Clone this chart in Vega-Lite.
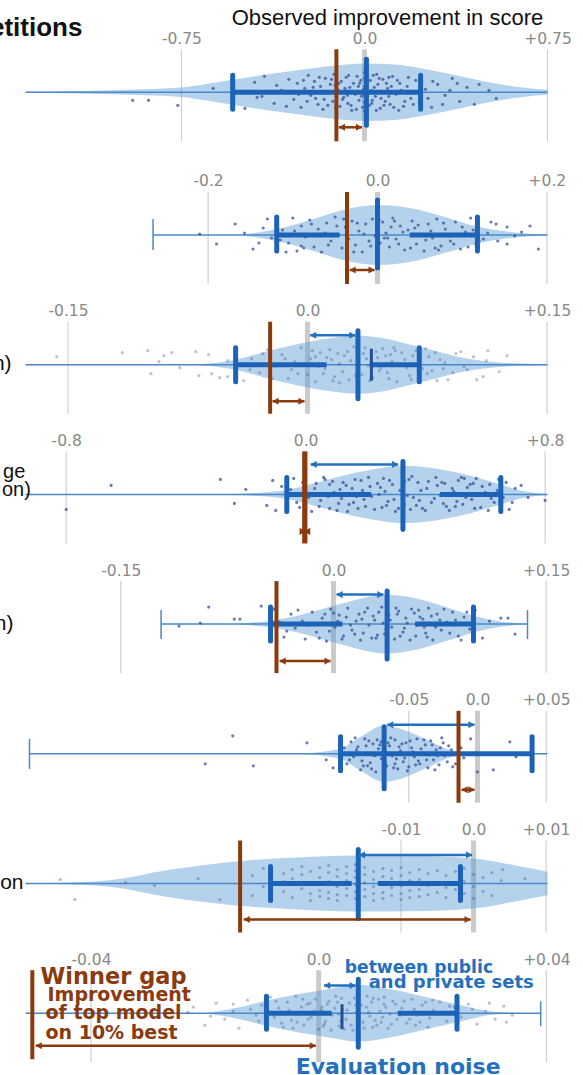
{
"$schema": "https://vega.github.io/schema/vega-lite/v6.json",
"background": "white",
"padding": {"left": -10.5, "top": 6.3, "right": 0, "bottom": -4},
"spacing": 16.7,
"resolve": {"scale": {"x": "independent", "y": "independent"}},
"config": {
  "view": {"stroke": null},
  "axis": {"domain": false, "ticks": false, "tickSize": 0, "grid": false, "labelFont": "DejaVu Sans", "labelFontSize": 15.5, "labelColor": "#888888", "labelPadding": 11, "labelBaseline": "middle", "labelFlush": false, "labelOverlap": false, "minExtent": 0}
},
"datasets": {
  "s1": [{"k":"grid","x":-0.75},{"k":"grid","x":0.75},{"k":"zero","x":0},{"k":"wh","x":-1.389,"x2":0.75},{"k":"thick","x":-0.54,"x2":0.23},{"k":"bar","x":-0.54},{"k":"bar","x":0.23},{"k":"med","x":0.008},{"k":"win","x":-0.115},{"k":"br","x":-0.105,"x2":-0.01},
    {"k":"v","x":-1.389,"hi":0.5,"lo":-0.5},{"k":"v","x":-1.04,"hi":2,"lo":-2},{"k":"v","x":-0.75,"hi":4.7,"lo":-4.7},{"k":"v","x":-0.655,"hi":8,"lo":-8},{"k":"v","x":-0.54,"hi":12.5,"lo":-12.5},{"k":"v","x":-0.426,"hi":17,"lo":-17},{"k":"v","x":-0.275,"hi":22,"lo":-22},{"k":"v","x":-0.119,"hi":26.7,"lo":-26.7},{"k":"v","x":0,"hi":28.7,"lo":-28.7},{"k":"v","x":0.123,"hi":27.7,"lo":-27.7},{"k":"v","x":0.23,"hi":24,"lo":-24},{"k":"v","x":0.336,"hi":19,"lo":-19},{"k":"v","x":0.488,"hi":11,"lo":-11},{"k":"v","x":0.639,"hi":5,"lo":-5},{"k":"v","x":0.75,"hi":2.5,"lo":-2.5}],
  "s2": [{"k":"grid","x":-0.2},{"k":"grid","x":0.2},{"k":"zero","x":0},{"k":"wh","x":-0.265,"x2":0.2007},{"k":"cap","x":-0.265},{"k":"thick","x":-0.119,"x2":-0.045},{"k":"thick","x":0.038,"x2":0.118},{"k":"bar","x":-0.119},{"k":"bar","x":0.118},{"k":"med","x":0},{"k":"win","x":-0.036},{"k":"br","x":-0.0329,"x2":-0.0035},
    {"k":"v","x":-0.159,"hi":0.5,"lo":-0.5},{"k":"v","x":-0.119,"hi":6,"lo":-6},{"k":"v","x":-0.072,"hi":17,"lo":-17},{"k":"v","x":-0.041,"hi":25,"lo":-25},{"k":"v","x":0,"hi":30,"lo":-30},{"k":"v","x":0.038,"hi":27,"lo":-27},{"k":"v","x":0.081,"hi":17.6,"lo":-17.6},{"k":"v","x":0.118,"hi":8.4,"lo":-8.4},{"k":"v","x":0.16,"hi":2.7,"lo":-2.7},{"k":"v","x":0.2007,"hi":0.5,"lo":-0.5}],
  "s3": [{"k":"grid","x":-0.15},{"k":"grid","x":0.15},{"k":"zero","x":0},{"k":"wh","x":-0.1766,"x2":0.1503},{"k":"thick","x":-0.045,"x2":0.012},{"k":"thick","x":0.039,"x2":0.07},{"k":"bar","x":-0.045},{"k":"bar","x":0.07},{"k":"tk","x":0.04},{"k":"med","x":0.0316},{"k":"win","x":-0.0234},{"k":"br","x":-0.0219,"x2":-0.0019},{"k":"bw","x":0.0017,"x2":0.03},
    {"k":"v","x":-0.067,"hi":0.5,"lo":-0.5},{"k":"v","x":-0.045,"hi":5,"lo":-5},{"k":"v","x":-0.024,"hi":14,"lo":-14},{"k":"v","x":0.001,"hi":23,"lo":-23},{"k":"v","x":0.032,"hi":29,"lo":-29},{"k":"v","x":0.041,"hi":28,"lo":-28},{"k":"v","x":0.071,"hi":17.5,"lo":-17.5},{"k":"v","x":0.099,"hi":6.5,"lo":-6.5},{"k":"v","x":0.122,"hi":2,"lo":-2},{"k":"v","x":0.1503,"hi":0.5,"lo":-0.5}],
  "s4": [{"k":"grid","x":-0.8},{"k":"grid","x":0.8},{"k":"zero","x":0},{"k":"wh","x":-0.936,"x2":0.808},{"k":"thick","x":-0.063,"x2":0.219},{"k":"thick","x":0.449,"x2":0.652},{"k":"bar","x":-0.063},{"k":"bar","x":0.652},{"k":"med","x":0.325},{"k":"win","x":-0.0033},{"k":"br","x":-0.005,"x2":0.0},{"k":"bw","x":0.0167,"x2":0.309},
    {"k":"v","x":-0.237,"hi":0.5,"lo":-0.5},{"k":"v","x":-0.087,"hi":3.4,"lo":-3.4},{"k":"v","x":0.013,"hi":10,"lo":-10},{"k":"v","x":0.1,"hi":17,"lo":-17},{"k":"v","x":0.223,"hi":25,"lo":-25},{"k":"v","x":0.325,"hi":28.7,"lo":-28.7},{"k":"v","x":0.408,"hi":27,"lo":-27},{"k":"v","x":0.533,"hi":20,"lo":-20},{"k":"v","x":0.652,"hi":10,"lo":-10},{"k":"v","x":0.717,"hi":4,"lo":-4},{"k":"v","x":0.808,"hi":0.5,"lo":-0.5}],
  "s5": [{"k":"grid","x":-0.15},{"k":"grid","x":0.15},{"k":"zero","x":0},{"k":"wh","x":-0.1216,"x2":0.1368},{"k":"cap","x":-0.1216},{"k":"cap","x":0.1368},{"k":"thick","x":-0.0444,"x2":0.0063},{"k":"thick","x":0.0575,"x2":0.0987},{"k":"bar","x":-0.0444},{"k":"bar","x":0.0987},{"k":"med","x":0.0378},{"k":"win","x":-0.0402},{"k":"br","x":-0.038,"x2":-0.0021},{"k":"bw","x":0.0021,"x2":0.0352},
    {"k":"v","x":-0.067,"hi":0.5,"lo":-0.5},{"k":"v","x":-0.0444,"hi":3.4,"lo":-3.4},{"k":"v","x":-0.0253,"hi":8.4,"lo":-8.4},{"k":"v","x":0.001,"hi":18.6,"lo":-18.6},{"k":"v","x":0.0378,"hi":29.4,"lo":-29.4},{"k":"v","x":0.0535,"hi":27,"lo":-27},{"k":"v","x":0.0796,"hi":16.9,"lo":-16.9},{"k":"v","x":0.0987,"hi":8.4,"lo":-8.4},{"k":"v","x":0.119,"hi":2.4,"lo":-2.4},{"k":"v","x":0.1368,"hi":0.5,"lo":-0.5}],
  "s6": [{"k":"grid","x":-0.05},{"k":"grid","x":0.05},{"k":"zero","x":0},{"k":"wh","x":-0.3258,"x2":0.0509},{"k":"cap","x":-0.3258},{"k":"thick","x":-0.0996,"x2":0.0397},{"k":"bar","x":-0.0996},{"k":"bar","x":0.0397},{"k":"med","x":-0.0679},{"k":"win","x":-0.0138},{"k":"br","x":-0.0116,"x2":-0.0022},{"k":"bw","x":-0.0657,"x2":-0.0022},
    {"k":"v","x":-0.125,"hi":0.5,"lo":-0.5},{"k":"v","x":-0.0996,"hi":5,"lo":-5},{"k":"v","x":-0.0873,"hi":15,"lo":-15},{"k":"v","x":-0.0679,"hi":28,"lo":-28},{"k":"v","x":-0.0549,"hi":24.6,"lo":-24.6},{"k":"v","x":-0.036,"hi":13.5,"lo":-13.5},{"k":"v","x":-0.0225,"hi":5,"lo":-5},{"k":"v","x":-0.0116,"hi":1,"lo":-1}],
  "s7": [{"k":"grid","x":-0.01},{"k":"grid","x":0.01},{"k":"zero","x":0},{"k":"wh","x":-0.0618,"x2":0.0102},{"k":"thick","x":-0.028,"x2":-0.0168},{"k":"thick","x":-0.0132,"x2":-0.0018},{"k":"bar","x":-0.028},{"k":"bar","x":-0.0018},{"k":"med","x":-0.0159},{"k":"win","x":-0.0322},{"k":"br","x":-0.0317,"x2":-0.0004},{"k":"bw","x":-0.0158,"x2":-0.0002},
    {"k":"v","x":-0.0575,"hi":0.5,"lo":-0.5},{"k":"v","x":-0.0499,"hi":3.4,"lo":-3.4},{"k":"v","x":-0.0422,"hi":13.5,"lo":-13.5},{"k":"v","x":-0.0371,"hi":18.6,"lo":-18.6},{"k":"v","x":-0.0319,"hi":22.6,"lo":-22.6},{"k":"v","x":-0.0243,"hi":26,"lo":-26},{"k":"v","x":-0.0165,"hi":28,"lo":-28},{"k":"v","x":-0.0088,"hi":27.7,"lo":-27.7},{"k":"v","x":0,"hi":25,"lo":-25},{"k":"v","x":0.0065,"hi":16.9,"lo":-16.9},{"k":"v","x":0.0102,"hi":11.8,"lo":-11.8}],
  "s8": [{"k":"grid","x":-0.04},{"k":"grid","x":0.04},{"k":"zero","x":0},{"k":"wh","x":-0.0515,"x2":0.039},{"k":"cap","x":0.039},{"k":"thick","x":-0.00917,"x2":0.00229},{"k":"thick","x":0.0139,"x2":0.0243},{"k":"bar","x":-0.00917},{"k":"bar","x":0.0243},{"k":"tk","x":0.0041},{"k":"med","x":0.00696},{"k":"win","x":-0.0503},{"k":"br","x":-0.0497,"x2":-0.0005},{"k":"bw","x":0.00095,"x2":0.0065},
    {"k":"v","x":-0.0193,"hi":0.5,"lo":-0.5},{"k":"v","x":-0.0141,"hi":5.7,"lo":-5.7},{"k":"v","x":-0.0092,"hi":12.5,"lo":-12.5},{"k":"v","x":-0.0037,"hi":19,"lo":-19},{"k":"v","x":0.0016,"hi":24,"lo":-24},{"k":"v","x":0.007,"hi":28.4,"lo":-28.4},{"k":"v","x":0.0127,"hi":24,"lo":-24},{"k":"v","x":0.0193,"hi":15.5,"lo":-15.5},{"k":"v","x":0.0243,"hi":9,"lo":-9},{"k":"v","x":0.0309,"hi":1.4,"lo":-1.4},{"k":"v","x":0.0355,"hi":0.3,"lo":-0.3}],
  "q1": [{"x":-0.95,"j":-8},{"x":-0.885,"j":-8},{"x":-0.765,"j":-13},{"x":-0.62,"j":4},{"x":-0.49,"j":-16},{"x":-0.45,"j":10},{"x":-0.44,"j":-5},{"x":-0.41,"j":16},{"x":-0.37,"j":-11},{"x":-0.34,"j":2},{"x":-0.31,"j":13},{"x":-0.29,"j":-7},{"x":-0.275,"j":9},{"x":-0.26,"j":-15},{"x":-0.245,"j":4},{"x":-0.23,"j":17},{"x":-0.22,"j":-3},{"x":-0.205,"j":11},{"x":-0.19,"j":-12},{"x":-0.18,"j":6},{"x":-0.17,"j":-17},{"x":-0.16,"j":14},{"x":-0.152,"j":-1},{"x":-0.14,"j":8},{"x":-0.13,"j":-9},{"x":-0.125,"j":18},{"x":-0.11,"j":3},{"x":-0.1,"j":-14},{"x":-0.095,"j":11},{"x":-0.085,"j":-5},{"x":-0.075,"j":15},{"x":-0.068,"j":-11},{"x":-0.06,"j":5},{"x":-0.052,"j":-18},{"x":-0.045,"j":9},{"x":-0.038,"j":-2},{"x":-0.03,"j":16},{"x":-0.022,"j":-8},{"x":-0.015,"j":12},{"x":-0.008,"j":-15},{"x":-0.004,"j":3},{"x":0,"j":-19},{"x":0,"j":-10},{"x":0,"j":-3},{"x":0,"j":6},{"x":0,"j":14},{"x":0,"j":20},{"x":0.006,"j":-7},{"x":0.012,"j":10},{"x":0.02,"j":-13},{"x":0.028,"j":2},{"x":0.036,"j":17},{"x":0.045,"j":-4},{"x":0.055,"j":8},{"x":0.065,"j":-16},{"x":0.075,"j":13},{"x":0.085,"j":-9},{"x":0.095,"j":4},{"x":0.105,"j":-12},{"x":0.115,"j":16},{"x":0.13,"j":-2},{"x":0.145,"j":9},{"x":0.16,"j":-14},{"x":0.175,"j":6},{"x":0.19,"j":-6},{"x":0.21,"j":12},{"x":0.225,"j":-10},{"x":0.25,"j":3},{"x":0.275,"j":-15},{"x":0.3,"j":8},{"x":0.33,"j":-3},{"x":0.36,"j":14},{"x":0.39,"j":-9},{"x":0.42,"j":5},{"x":0.45,"j":-12},{"x":0.47,"j":8},{"x":0.51,"j":2},{"x":0.54,"j":-6},{"x":-0.2,"j":-6},{"x":-0.12,"j":7},{"x":-0.07,"j":-3},{"x":-0.02,"j":9},{"x":0.03,"j":-11},{"x":0.07,"j":1},{"x":0.1,"j":15},{"x":0.14,"j":-18},{"x":0.2,"j":0},{"x":-0.25,"j":12},{"x":-0.15,"j":-13},{"x":0.05,"j":18},
    {"x":-0.27,"j":-2},{"x":-0.235,"j":-9},{"x":-0.21,"j":5},{"x":-0.185,"j":15},{"x":-0.165,"j":-7},{"x":-0.145,"j":1},{"x":-0.135,"j":13},{"x":-0.118,"j":-16},{"x":-0.105,"j":9},{"x":-0.09,"j":-7},{"x":-0.08,"j":4},{"x":-0.065,"j":17},{"x":-0.055,"j":-13},{"x":-0.04,"j":0},{"x":-0.033,"j":-17},{"x":-0.025,"j":6},{"x":-0.012,"j":-4},{"x":0.003,"j":-14},{"x":0.01,"j":17},{"x":0.016,"j":-1},{"x":0.024,"j":12},{"x":0.032,"j":-8},{"x":0.04,"j":5},{"x":0.048,"j":-18},{"x":0.06,"j":14},{"x":0.068,"j":-6},{"x":0.08,"j":-13},{"x":0.09,"j":9},{"x":0.1,"j":-4},{"x":0.11,"j":6},{"x":0.12,"j":-15},{"x":0.135,"j":12},{"x":0.15,"j":2},{"x":0.165,"j":-9},{"x":0.18,"j":15},{"x":0.2,"j":-12},{"x":0.23,"j":6},{"x":0.26,"j":-6},{"x":0.28,"j":11},{"x":0.32,"j":-12},{"x":0.35,"j":2},{"x":0.38,"j":9},{"x":-0.32,"j":-14},{"x":-0.36,"j":7},{"x":-0.42,"j":-4}],
  "q2": [{"x":-0.21,"j":1},{"x":-0.19,"j":-9},{"x":-0.168,"j":11},{"x":-0.157,"j":2},{"x":-0.147,"j":-14},{"x":-0.13,"j":16},{"x":-0.125,"j":-3},{"x":-0.118,"j":13},{"x":-0.118,"j":-15},{"x":-0.112,"j":5},{"x":-0.105,"j":-8},{"x":-0.1,"j":17},{"x":-0.095,"j":-16},{"x":-0.09,"j":9},{"x":-0.085,"j":-2},{"x":-0.08,"j":15},{"x":-0.075,"j":-12},{"x":-0.07,"j":6},{"x":-0.066,"j":-17},{"x":-0.06,"j":12},{"x":-0.055,"j":-6},{"x":-0.05,"j":18},{"x":-0.046,"j":0},{"x":-0.042,"j":-13},{"x":-0.038,"j":8},{"x":-0.034,"j":-4},{"x":-0.03,"j":14},{"x":-0.026,"j":-10},{"x":-0.022,"j":4},{"x":-0.018,"j":-17},{"x":-0.014,"j":11},{"x":-0.01,"j":-6},{"x":-0.006,"j":16},{"x":-0.003,"j":-1},{"x":0,"j":-14},{"x":0,"j":7},{"x":0.003,"j":-8},{"x":0.006,"j":13},{"x":0.01,"j":2},{"x":0.014,"j":-12},{"x":0.018,"j":17},{"x":0.022,"j":-4},{"x":0.027,"j":9},{"x":0.032,"j":-15},{"x":0.036,"j":5},{"x":0.041,"j":14},{"x":0.046,"j":-9},{"x":0.05,"j":1},{"x":0.055,"j":-16},{"x":0.06,"j":11},{"x":0.065,"j":-3},{"x":0.07,"j":16},{"x":0.075,"j":-11},{"x":0.08,"j":6},{"x":0.086,"j":-6},{"x":0.092,"j":13},{"x":0.098,"j":-14},{"x":0.104,"j":3},{"x":0.11,"j":17},{"x":0.116,"j":-9},{"x":0.118,"j":10},{"x":0.125,"j":-4},{"x":0.134,"j":13},{"x":0.142,"j":-6},{"x":0.153,"j":8},{"x":0.153,"j":-9},{"x":0.162,"j":-1},{"x":0.19,"j":-14},{"x":-0.09,"j":-11},{"x":-0.062,"j":2},{"x":-0.028,"j":-17},{"x":0.012,"j":-3},{"x":0.044,"j":7},{"x":0.068,"j":-13},{"x":0.094,"j":1},{"x":-0.04,"j":16},{"x":0.02,"j":14},{"x":-0.108,"j":-17},
    {"x":-0.115,"j":-5},{"x":-0.098,"j":4},{"x":-0.087,"j":-13},{"x":-0.078,"j":11},{"x":-0.068,"j":-1},{"x":-0.058,"j":-10},{"x":-0.048,"j":9},{"x":-0.036,"j":-15},{"x":-0.024,"j":12},{"x":-0.016,"j":1},{"x":-0.008,"j":-11},{"x":0.002,"j":15},{"x":0.008,"j":-3},{"x":0.016,"j":8},{"x":0.025,"j":-9},{"x":0.03,"j":3},{"x":0.039,"j":-13},{"x":0.048,"j":10},{"x":0.057,"j":-5},{"x":0.063,"j":4},{"x":0.072,"j":-15},{"x":0.078,"j":12},{"x":0.084,"j":-1},{"x":0.09,"j":-9},{"x":0.1,"j":8},{"x":0.107,"j":-12},{"x":0.113,"j":5},{"x":0.12,"j":-6},{"x":0.13,"j":2},{"x":-0.135,"j":7},{"x":-0.14,"j":-8},{"x":0.14,"j":11},{"x":0.17,"j":3},{"x":0.18,"j":9}],
  "q3": [{"x":-0.157,"j":8},{"x":-0.116,"j":12},{"x":-0.1,"j":14},{"x":-0.098,"j":-9},{"x":-0.093,"j":3},{"x":-0.09,"j":9},{"x":-0.085,"j":12},{"x":-0.08,"j":-3},{"x":-0.07,"j":13},{"x":-0.068,"j":-11},{"x":-0.06,"j":-9},{"x":-0.055,"j":-13},{"x":-0.05,"j":4},{"x":-0.045,"j":14},{"x":-0.04,"j":-16},{"x":-0.035,"j":6},{"x":-0.03,"j":-8},{"x":-0.025,"j":15},{"x":-0.02,"j":-2},{"x":-0.016,"j":10},{"x":-0.012,"j":-14},{"x":-0.008,"j":3},{"x":-0.004,"j":17},{"x":0,"j":-10},{"x":0.002,"j":6},{"x":0.005,"j":-17},{"x":0.008,"j":12},{"x":0.011,"j":-4},{"x":0.014,"j":15},{"x":0.017,"j":-12},{"x":0.02,"j":1},{"x":0.023,"j":9},{"x":0.026,"j":-15},{"x":0.029,"j":18},{"x":0.032,"j":-6},{"x":0.035,"j":11},{"x":0.038,"j":-1},{"x":0.041,"j":-13},{"x":0.044,"j":7},{"x":0.047,"j":16},{"x":0.05,"j":-8},{"x":0.053,"j":3},{"x":0.056,"j":-17},{"x":0.059,"j":12},{"x":0.062,"j":-3},{"x":0.066,"j":9},{"x":0.07,"j":-12},{"x":0.074,"j":16},{"x":0.078,"j":-6},{"x":0.083,"j":5},{"x":0.088,"j":-15},{"x":0.093,"j":11},{"x":0.098,"j":-2},{"x":0.104,"j":8},{"x":0.11,"j":-12},{"x":0.112,"j":4},{"x":0.113,"j":14},{"x":0.12,"j":-7},{"x":0.125,"j":9},{"x":0.01,"j":-9},{"x":0.015,"j":5},{"x":0.025,"j":13},{"x":0.03,"j":-11},{"x":0.04,"j":2},{"x":0.045,"j":-6},{"x":0.055,"j":14},{"x":0.06,"j":-1},{"x":0.065,"j":-15},{"x":0.07,"j":6},{"x":0.075,"j":-9},{"x":0.08,"j":12},{"x":0.085,"j":-4},{"x":0.005,"j":8},{"x":-0.01,"j":-5},{"x":0.02,"j":-18},{"x":0.036,"j":17},{"x":0.052,"j":10},
    {"x":-0.062,"j":10},{"x":-0.05,"j":-12},{"x":-0.042,"j":1},{"x":-0.036,"j":-5},{"x":-0.028,"j":11},{"x":-0.022,"j":-14},{"x":-0.014,"j":6},{"x":-0.006,"j":-9},{"x":0.003,"j":14},{"x":0.007,"j":-2},{"x":0.012,"j":7},{"x":0.016,"j":-16},{"x":0.019,"j":11},{"x":0.022,"j":-7},{"x":0.027,"j":4},{"x":0.031,"j":15},{"x":0.034,"j":-10},{"x":0.037,"j":6},{"x":0.039,"j":-16},{"x":0.043,"j":13},{"x":0.046,"j":-3},{"x":0.049,"j":9},{"x":0.051,"j":-14},{"x":0.054,"j":17},{"x":0.057,"j":-1},{"x":0.061,"j":5},{"x":0.064,"j":-11},{"x":0.068,"j":14},{"x":0.072,"j":-4},{"x":0.076,"j":8},{"x":0.081,"j":-16},{"x":0.086,"j":2},{"x":0.091,"j":-8},{"x":0.096,"j":13},{"x":0.1,"j":-5},{"x":0.106,"j":-15}],
  "q4": [{"x":-0.8,"j":-15},{"x":-0.65,"j":9},{"x":-0.285,"j":15},{"x":-0.238,"j":-9},{"x":-0.2,"j":5},{"x":-0.13,"j":-11},{"x":-0.11,"j":14},{"x":-0.1,"j":-16},{"x":-0.08,"j":8},{"x":-0.06,"j":-4},{"x":-0.04,"j":16},{"x":-0.02,"j":-13},{"x":0,"j":3},{"x":0.02,"j":-17},{"x":0.035,"j":11},{"x":0.05,"j":-6},{"x":0.065,"j":15},{"x":0.08,"j":-14},{"x":0.095,"j":2},{"x":0.11,"j":-9},{"x":0.125,"j":12},{"x":0.14,"j":-17},{"x":0.155,"j":6},{"x":0.17,"j":-2},{"x":0.185,"j":14},{"x":0.2,"j":-12},{"x":0.215,"j":8},{"x":0.23,"j":-15},{"x":0.245,"j":0},{"x":0.26,"j":16},{"x":0.275,"j":-7},{"x":0.29,"j":10},{"x":0.3,"j":-17},{"x":0.315,"j":4},{"x":0.33,"j":-10},{"x":0.345,"j":15},{"x":0.36,"j":-3},{"x":0.375,"j":12},{"x":0.39,"j":-14},{"x":0.405,"j":6},{"x":0.42,"j":-8},{"x":0.435,"j":17},{"x":0.45,"j":-1},{"x":0.465,"j":11},{"x":0.48,"j":-16},{"x":0.495,"j":3},{"x":0.51,"j":14},{"x":0.525,"j":-10},{"x":0.54,"j":7},{"x":0.555,"j":-5},{"x":0.57,"j":16},{"x":0.585,"j":-13},{"x":0.6,"j":2},{"x":0.615,"j":10},{"x":0.63,"j":-8},{"x":0.645,"j":15},{"x":0.66,"j":-3},{"x":0.68,"j":-15},{"x":0.7,"j":6},{"x":0.72,"j":9},{"x":0.743,"j":-3},{"x":0.8,"j":-6},{"x":0.12,"j":-4},{"x":0.19,"j":4},{"x":0.27,"j":-11},{"x":0.33,"j":13},{"x":0.38,"j":-6},{"x":0.44,"j":9},{"x":0.5,"j":-12},{"x":0.56,"j":11},{"x":0.25,"j":7},{"x":0.35,"j":-15},{"x":0.46,"j":-9},{"x":0.53,"j":16},{"x":0.08,"j":10},{"x":0.16,"j":-8},{"x":0.61,"j":-16},
    {"x":-0.05,"j":5},{"x":-0.03,"j":-8},{"x":-0.01,"j":12},{"x":0.01,"j":-3},{"x":0.03,"j":6},{"x":0.045,"j":-12},{"x":0.06,"j":17},{"x":0.075,"j":-2},{"x":0.09,"j":13},{"x":0.105,"j":-16},{"x":0.115,"j":5},{"x":0.135,"j":9},{"x":0.145,"j":-10},{"x":0.165,"j":15},{"x":0.175,"j":-14},{"x":0.195,"j":-5},{"x":0.21,"j":17},{"x":0.22,"j":-2},{"x":0.24,"j":11},{"x":0.255,"j":-13},{"x":0.265,"j":3},{"x":0.28,"j":14},{"x":0.295,"j":-5},{"x":0.31,"j":-14},{"x":0.325,"j":8},{"x":0.34,"j":-1},{"x":0.355,"j":18},{"x":0.37,"j":-11},{"x":0.385,"j":4},{"x":0.4,"j":-16},{"x":0.41,"j":13},{"x":0.43,"j":-4},{"x":0.455,"j":12},{"x":0.47,"j":-12},{"x":0.49,"j":6},{"x":0.505,"j":-7},{"x":0.52,"j":17},{"x":0.535,"j":-3},{"x":0.55,"j":10},{"x":0.565,"j":-14},{"x":0.59,"j":8},{"x":0.62,"j":-4},{"x":0.64,"j":4},{"x":0.67,"j":12},{"x":0.69,"j":-8}],
  "q5": [{"x":-0.109,"j":-2},{"x":-0.094,"j":1},{"x":-0.088,"j":17},{"x":-0.07,"j":5},{"x":-0.066,"j":5},{"x":-0.051,"j":18},{"x":-0.045,"j":-9},{"x":-0.042,"j":15},{"x":-0.04,"j":-17},{"x":-0.035,"j":-13},{"x":-0.03,"j":10},{"x":-0.027,"j":-4},{"x":-0.022,"j":3},{"x":-0.02,"j":-15},{"x":-0.015,"j":12},{"x":-0.012,"j":-8},{"x":-0.008,"j":6},{"x":-0.005,"j":-17},{"x":-0.002,"j":15},{"x":0.001,"j":-3},{"x":0.004,"j":9},{"x":0.007,"j":-12},{"x":0.01,"j":16},{"x":0.013,"j":-6},{"x":0.016,"j":3},{"x":0.019,"j":-16},{"x":0.022,"j":12},{"x":0.025,"j":-1},{"x":0.028,"j":8},{"x":0.031,"j":-11},{"x":0.034,"j":17},{"x":0.037,"j":-5},{"x":0.04,"j":4},{"x":0.043,"j":-15},{"x":0.046,"j":13},{"x":0.049,"j":-8},{"x":0.052,"j":1},{"x":0.055,"j":15},{"x":0.058,"j":-12},{"x":0.061,"j":7},{"x":0.064,"j":-3},{"x":0.067,"j":16},{"x":0.07,"j":-16},{"x":0.073,"j":10},{"x":0.076,"j":-6},{"x":0.08,"j":2},{"x":0.084,"j":12},{"x":0.088,"j":-12},{"x":0.092,"j":7},{"x":0.096,"j":-5},{"x":0.1,"j":14},{"x":0.105,"j":-14},{"x":0.11,"j":3},{"x":0.118,"j":6},{"x":0.123,"j":6},{"x":0.128,"j":-10},{"x":0.02,"j":5},{"x":0.03,"j":-14},{"x":0.045,"j":10},{"x":0.05,"j":-4},{"x":0.06,"j":14},{"x":0.065,"j":-9},{"x":0.075,"j":4},{"x":0.015,"j":-10},{"x":0.035,"j":1},{"x":0,"j":11},
    {"x":-0.038,"j":2},{"x":-0.033,"j":-7},{"x":-0.025,"j":14},{"x":-0.018,"j":-1},{"x":-0.01,"j":-14},{"x":-0.006,"j":10},{"x":-0.003,"j":-7},{"x":0.003,"j":3},{"x":0.006,"j":-15},{"x":0.009,"j":7},{"x":0.012,"j":-1},{"x":0.018,"j":10},{"x":0.021,"j":-9},{"x":0.024,"j":16},{"x":0.027,"j":-14},{"x":0.029,"j":4},{"x":0.032,"j":12},{"x":0.036,"j":-10},{"x":0.039,"j":9},{"x":0.041,"j":-3},{"x":0.044,"j":16},{"x":0.047,"j":-12},{"x":0.051,"j":6},{"x":0.054,"j":-16},{"x":0.057,"j":11},{"x":0.059,"j":-1},{"x":0.063,"j":5},{"x":0.066,"j":-13},{"x":0.069,"j":8},{"x":0.072,"j":-3},{"x":0.078,"j":15},{"x":0.082,"j":-9},{"x":0.086,"j":4},{"x":0.09,"j":-16},{"x":0.094,"j":12},{"x":0.098,"j":-1}],
  "q6": [{"x":-0.198,"j":-10},{"x":-0.178,"j":18},{"x":-0.163,"j":-12},{"x":-0.124,"j":11},{"x":-0.11,"j":-6},{"x":-0.105,"j":-14},{"x":-0.1,"j":4},{"x":-0.095,"j":-10},{"x":-0.092,"j":12},{"x":-0.09,"j":-3},{"x":-0.087,"j":7},{"x":-0.085,"j":-16},{"x":-0.082,"j":15},{"x":-0.08,"j":0},{"x":-0.078,"j":-9},{"x":-0.076,"j":10},{"x":-0.074,"j":-18},{"x":-0.072,"j":5},{"x":-0.07,"j":-5},{"x":-0.068,"j":17},{"x":-0.066,"j":-12},{"x":-0.064,"j":8},{"x":-0.062,"j":-2},{"x":-0.06,"j":14},{"x":-0.058,"j":-15},{"x":-0.056,"j":3},{"x":-0.054,"j":-8},{"x":-0.052,"j":11},{"x":-0.05,"j":-13},{"x":-0.048,"j":6},{"x":-0.046,"j":-3},{"x":-0.044,"j":15},{"x":-0.042,"j":-10},{"x":-0.04,"j":1},{"x":-0.038,"j":9},{"x":-0.036,"j":-14},{"x":-0.034,"j":13},{"x":-0.032,"j":-6},{"x":-0.03,"j":4},{"x":-0.028,"j":-11},{"x":-0.026,"j":16},{"x":-0.024,"j":-2},{"x":-0.021,"j":8},{"x":-0.018,"j":-13},{"x":-0.014,"j":12},{"x":-0.01,"j":-4},{"x":-0.005,"j":15},{"x":0,"j":-18},{"x":0.0115,"j":-16},{"x":0.0235,"j":12},{"x":0.028,"j":-3},{"x":-0.088,"j":4},{"x":-0.084,"j":-7},{"x":-0.079,"j":13},{"x":-0.075,"j":-2},{"x":-0.071,"j":9},{"x":-0.067,"j":-9},{"x":-0.063,"j":16},{"x":-0.059,"j":-5},{"x":-0.055,"j":10},{"x":-0.051,"j":-17},{"x":-0.047,"j":2},{"x":-0.043,"j":-7},{"x":-0.039,"j":14},{"x":-0.035,"j":-1},{"x":-0.031,"j":-16},{"x":-0.027,"j":6},{"x":-0.06,"j":-10},{"x":-0.07,"j":12},{"x":-0.08,"j":-12},{"x":-0.065,"j":1},
    {"x":-0.097,"j":6},{"x":-0.093,"j":-6},{"x":-0.089,"j":16},{"x":-0.086,"j":1},{"x":-0.083,"j":-12},{"x":-0.081,"j":8},{"x":-0.077,"j":-15},{"x":-0.073,"j":14},{"x":-0.069,"j":-1},{"x":-0.065,"j":11},{"x":-0.061,"j":-14},{"x":-0.057,"j":7},{"x":-0.053,"j":-4},{"x":-0.049,"j":13},{"x":-0.045,"j":-11},{"x":-0.041,"j":5},{"x":-0.037,"j":-6},{"x":-0.033,"j":9},{"x":-0.029,"j":-2},{"x":-0.025,"j":11},{"x":-0.022,"j":-8},{"x":-0.019,"j":4},{"x":-0.016,"j":-10},{"x":-0.012,"j":6}],
  "q7": [{"x":-0.057,"j":4},{"x":-0.055,"j":-16},{"x":-0.048,"j":1},{"x":-0.044,"j":-2},{"x":-0.038,"j":5},{"x":-0.035,"j":-16},{"x":-0.0305,"j":8},{"x":-0.0305,"j":-12},{"x":-0.029,"j":15},{"x":-0.029,"j":-3},{"x":-0.0262,"j":10},{"x":-0.0262,"j":-8},{"x":-0.0262,"j":2},{"x":-0.025,"j":14},{"x":-0.025,"j":-14},{"x":-0.025,"j":5},{"x":-0.0237,"j":9},{"x":-0.0237,"j":-5},{"x":-0.0237,"j":17},{"x":-0.0225,"j":12},{"x":-0.0225,"j":-10},{"x":-0.0225,"j":0},{"x":-0.0225,"j":-17},{"x":-0.0212,"j":16},{"x":-0.0212,"j":6},{"x":-0.0212,"j":-7},{"x":-0.0212,"j":-13},{"x":-0.02,"j":11},{"x":-0.02,"j":2},{"x":-0.02,"j":-9},{"x":-0.02,"j":-15},{"x":-0.02,"j":18},{"x":-0.0188,"j":14},{"x":-0.0188,"j":7},{"x":-0.0188,"j":-3},{"x":-0.0188,"j":-11},{"x":-0.0188,"j":-17},{"x":-0.0175,"j":17},{"x":-0.0175,"j":10},{"x":-0.0175,"j":3},{"x":-0.0175,"j":-5},{"x":-0.0175,"j":-12},{"x":-0.0163,"j":13},{"x":-0.0163,"j":6},{"x":-0.0163,"j":-1},{"x":-0.0163,"j":-8},{"x":-0.0163,"j":-15},{"x":-0.0163,"j":19},{"x":-0.015,"j":16},{"x":-0.015,"j":9},{"x":-0.015,"j":1},{"x":-0.015,"j":-6},{"x":-0.015,"j":-13},{"x":-0.0138,"j":12},{"x":-0.0138,"j":4},{"x":-0.0138,"j":-3},{"x":-0.0138,"j":-10},{"x":-0.0138,"j":-17},{"x":-0.0125,"j":15},{"x":-0.0125,"j":7},{"x":-0.0125,"j":-1},{"x":-0.0125,"j":-9},{"x":-0.0125,"j":-15},{"x":-0.0113,"j":13},{"x":-0.0113,"j":5},{"x":-0.0113,"j":-4},{"x":-0.0113,"j":-12},{"x":-0.01,"j":16},{"x":-0.01,"j":8},{"x":-0.01,"j":-2},{"x":-0.01,"j":-10},{"x":-0.01,"j":-16},{"x":-0.0088,"j":11},{"x":-0.0088,"j":3},{"x":-0.0088,"j":-7},{"x":-0.0088,"j":-14},{"x":-0.0075,"j":14},{"x":-0.0075,"j":4},{"x":-0.0075,"j":-6},{"x":-0.0075,"j":-13},{"x":-0.0063,"j":10},{"x":-0.0063,"j":-2},{"x":-0.0063,"j":-11},{"x":-0.005,"j":13},{"x":-0.005,"j":1},{"x":-0.005,"j":-9},{"x":-0.0038,"j":8},{"x":-0.0038,"j":-4},{"x":-0.0038,"j":-14},{"x":-0.0025,"j":12},{"x":-0.0025,"j":-6},{"x":-0.0013,"j":15},{"x":-0.0013,"j":2},{"x":-0.0013,"j":-10},{"x":0,"j":9},{"x":0,"j":-3},{"x":0,"j":-15},{"x":0.0013,"j":6},{"x":0.0013,"j":-8},{"x":0.0025,"j":11},{"x":0.0025,"j":-12},{"x":0.0038,"j":3},{"x":0.004,"j":14},{"x":0.0071,"j":5}],
  "q8": [{"x":-0.026,"j":-4},{"x":-0.022,"j":6},{"x":-0.02,"j":-12},{"x":-0.018,"j":10},{"x":-0.0165,"j":-6},{"x":-0.015,"j":2},{"x":-0.014,"j":-15},{"x":-0.0125,"j":13},{"x":-0.011,"j":-2},{"x":-0.01,"j":8},{"x":-0.0092,"j":-10},{"x":-0.0085,"j":16},{"x":-0.0078,"j":-4},{"x":-0.007,"j":5},{"x":-0.0062,"j":-14},{"x":-0.0055,"j":11},{"x":-0.0048,"j":-7},{"x":-0.004,"j":17},{"x":-0.0033,"j":0},{"x":-0.0026,"j":-12},{"x":-0.002,"j":9},{"x":-0.0013,"j":-4},{"x":-0.0006,"j":14},{"x":0,"j":-16},{"x":0.0006,"j":6},{"x":0.0012,"j":-8},{"x":0.0018,"j":12},{"x":0.0024,"j":-2},{"x":0.003,"j":17},{"x":0.0036,"j":-13},{"x":0.0042,"j":4},{"x":0.0048,"j":-6},{"x":0.0054,"j":10},{"x":0.006,"j":-17},{"x":0.0066,"j":1},{"x":0.0072,"j":13},{"x":0.0078,"j":-9},{"x":0.0084,"j":6},{"x":0.009,"j":-3},{"x":0.0096,"j":15},{"x":0.0102,"j":-12},{"x":0.0108,"j":2},{"x":0.0115,"j":9},{"x":0.0122,"j":-15},{"x":0.013,"j":12},{"x":0.0138,"j":-6},{"x":0.0146,"j":5},{"x":0.0155,"j":-10},{"x":0.0164,"j":14},{"x":0.0173,"j":-2},{"x":0.0182,"j":8},{"x":0.0192,"j":-14},{"x":0.0202,"j":3},{"x":0.0213,"j":11},{"x":0.0225,"j":-8},{"x":0.0238,"j":6},{"x":0.025,"j":-4},{"x":0.0263,"j":9},{"x":0.0278,"j":-11},{"x":0.0293,"j":2},{"x":0.031,"j":-6},{"x":0.0325,"j":7},{"x":0.034,"j":-2},{"x":-0.003,"j":6},{"x":0.001,"j":-11},{"x":0.004,"j":15},{"x":0.007,"j":-5},{"x":0.011,"j":-9},{"x":0.015,"j":0},{"x":0.0005,"j":3},{"x":0.0035,"j":-1},{"x":0.0065,"j":8},{"x":0.0095,"j":-14},{"x":0.0125,"j":-1},{"x":-0.0015,"j":10},{"x":-0.006,"j":-1},{"x":0.017,"j":-12},{"x":0.02,"j":13},{"x":0.0045,"j":-16},{"x":0.0085,"j":17},{"x":-0.0045,"j":-15},{"x":0.0115,"j":16},{"x":0.0195,"j":-5},
    {"x":-0.012,"j":4},{"x":-0.0105,"j":-8},{"x":-0.0088,"j":1},{"x":-0.0075,"j":12},{"x":-0.0065,"j":-10},{"x":-0.0052,"j":3},{"x":-0.0038,"j":-9},{"x":-0.0028,"j":14},{"x":-0.0018,"j":-6},{"x":-0.0008,"j":2},{"x":0.0008,"j":-13},{"x":0.0015,"j":9},{"x":0.0022,"j":-17},{"x":0.0028,"j":5},{"x":0.0033,"j":11},{"x":0.0039,"j":-8},{"x":0.005,"j":3},{"x":0.0057,"j":-12},{"x":0.0063,"j":15},{"x":0.0069,"j":-3},{"x":0.0075,"j":8},{"x":0.008,"j":-15},{"x":0.0088,"j":1},{"x":0.0093,"j":11},{"x":0.0099,"j":-7},{"x":0.0105,"j":14},{"x":0.0112,"j":-4},{"x":0.0118,"j":6},{"x":0.0128,"j":-11},{"x":0.0135,"j":9},{"x":0.0143,"j":-2},{"x":0.015,"j":12},{"x":0.016,"j":-6},{"x":0.0168,"j":4},{"x":0.0178,"j":-9},{"x":0.0188,"j":11},{"x":0.021,"j":-1},{"x":0.023,"j":7},{"x":0.0245,"j":-10},{"x":0.027,"j":4},{"x":-0.015,"j":9},{"x":-0.019,"j":-3},{"x":-0.023,"j":1},{"x":0.03,"j":10},{"x":0.033,"j":-9}]
},
"vconcat": [
{
 "width": 522, "height": 108, "data": {"name": "s1"},
 "layer": [
  {"transform":[{"filter":"datum.k=='grid'"}],"mark":{"type":"rule","color":"#d0d0d0","strokeWidth":1.2},"encoding":{"x":{"field":"x","type":"quantitative","scale":{"domain":[-1.389,0.75],"nice":false,"zero":false},"axis":{"title":null,"orient":"top","values":[-0.75,0,0.75],"labelExpr":"datum.value < 0 ? '-' + format(-datum.value, '.2~f') : (datum.value > 0 ? '+' + format(datum.value, '.2~f') : '0.0')"}},"y":{"datum":-49,"type":"quantitative","scale":{"domain":[-65,43],"nice":false,"zero":false},"axis":null},"y2":{"datum":43}}},
  {"transform":[{"filter":"datum.k=='zero'"}],"mark":{"type":"rule","color":"#cbcbcb","strokeWidth":5},"encoding":{"x":{"field":"x","type":"quantitative"},"y":{"datum":-49,"type":"quantitative"},"y2":{"datum":43}}},
  {"transform":[{"filter":"datum.k=='v'"}],"mark":{"type":"area","color":"#5b9bd5","opacity":0.45,"interpolate":"monotone"},"encoding":{"x":{"field":"x","type":"quantitative"},"y":{"field":"hi","type":"quantitative"},"y2":{"field":"lo"}}},
  {"transform":[{"filter":"datum.k=='wh'"}],"mark":{"type":"rule","color":"#4a88c8","strokeWidth":1.5},"encoding":{"x":{"field":"x","type":"quantitative"},"x2":{"field":"x2"},"y":{"datum":0,"type":"quantitative"}}},
  {"data":{"name":"q1"},"mark":{"type":"circle","size":10,"color":"#34509a","opacity":0.75},"encoding":{"x":{"field":"x","type":"quantitative"},"y":{"field":"j","type":"quantitative"}}},
  {"transform":[{"filter":"datum.k=='thick'"}],"mark":{"type":"rule","color":"#1c63b7","strokeWidth":5},"encoding":{"x":{"field":"x","type":"quantitative"},"x2":{"field":"x2"},"y":{"datum":0,"type":"quantitative"}}},
  {"transform":[{"filter":"datum.k=='bar'"}],"mark":{"type":"rule","color":"#1c63b7","strokeWidth":5,"strokeCap":"round"},"encoding":{"x":{"field":"x","type":"quantitative"},"y":{"datum":-17,"type":"quantitative"},"y2":{"datum":17}}},
  {"transform":[{"filter":"datum.k=='med'"}],"mark":{"type":"rule","color":"#1c63b7","strokeWidth":5,"strokeCap":"round"},"encoding":{"x":{"field":"x","type":"quantitative"},"y":{"datum":-33,"type":"quantitative"},"y2":{"datum":33}}},
  {"transform":[{"filter":"datum.k=='win'"}],"mark":{"type":"rule","color":"#8b3a0e","strokeWidth":4},"encoding":{"x":{"field":"x","type":"quantitative"},"y":{"datum":-49,"type":"quantitative"},"y2":{"datum":43}}},
  {"transform":[{"filter":"datum.k=='br'"}],"mark":{"type":"rule","color":"#8b3a0e","strokeWidth":2.5},"encoding":{"x":{"field":"x","type":"quantitative"},"x2":{"field":"x2"},"y":{"datum":-35,"type":"quantitative"}}},
  {"transform":[{"filter":"datum.k=='br'"}],"mark":{"type":"point","shape":"triangle-left","filled":true,"size":50,"color":"#8b3a0e","opacity":1,"xOffset":3},"encoding":{"x":{"field":"x","type":"quantitative"},"y":{"datum":-35,"type":"quantitative"}}},
  {"transform":[{"filter":"datum.k=='br'"}],"mark":{"type":"point","shape":"triangle-right","filled":true,"size":50,"color":"#8b3a0e","opacity":1,"xOffset":-3},"encoding":{"x":{"field":"x2","type":"quantitative"},"y":{"datum":-35,"type":"quantitative"}}},
  {"data":{"values":[{"t":"Observed improvement in score"}]},"mark":{"type":"text","font":"Liberation Sans","fontSize":22,"color":"#111111","align":"center","baseline":"alphabetic"},"encoding":{"x":{"datum":0.094,"type":"quantitative"},"y":{"datum":67.7,"type":"quantitative"},"text":{"field":"t"}}},
  {"data":{"values":[{"t":"etitions"}]},"mark":{"type":"text","font":"Liberation Sans","fontSize":26,"fontWeight":"bold","color":"#111111","align":"right","baseline":"alphabetic"},"encoding":{"x":{"datum":-1.156,"type":"quantitative"},"y":{"datum":56,"type":"quantitative"},"text":{"field":"t"}}}
 ]
},
{
 "width": 522, "height": 92, "data": {"name": "s2"},
 "layer": [
  {"transform":[{"filter":"datum.k=='grid'"}],"mark":{"type":"rule","color":"#d0d0d0","strokeWidth":1.2},"encoding":{"x":{"field":"x","type":"quantitative","scale":{"domain":[-0.4156,0.2007],"nice":false,"zero":false},"axis":{"title":null,"orient":"top","values":[-0.2,0,0.2],"labelExpr":"datum.value < 0 ? '-' + format(-datum.value, '.2~f') : (datum.value > 0 ? '+' + format(datum.value, '.2~f') : '0.0')"}},"y":{"datum":-49,"type":"quantitative","scale":{"domain":[-49,43],"nice":false,"zero":false},"axis":null},"y2":{"datum":43}}},
  {"transform":[{"filter":"datum.k=='zero'"}],"mark":{"type":"rule","color":"#cbcbcb","strokeWidth":5},"encoding":{"x":{"field":"x","type":"quantitative"},"y":{"datum":-49,"type":"quantitative"},"y2":{"datum":43}}},
  {"transform":[{"filter":"datum.k=='v'"}],"mark":{"type":"area","color":"#5b9bd5","opacity":0.45,"interpolate":"monotone"},"encoding":{"x":{"field":"x","type":"quantitative"},"y":{"field":"hi","type":"quantitative"},"y2":{"field":"lo"}}},
  {"transform":[{"filter":"datum.k=='wh'"}],"mark":{"type":"rule","color":"#4a88c8","strokeWidth":1.5},"encoding":{"x":{"field":"x","type":"quantitative"},"x2":{"field":"x2"},"y":{"datum":0,"type":"quantitative"}}},
  {"transform":[{"filter":"datum.k=='cap'"}],"mark":{"type":"rule","color":"#4a88c8","strokeWidth":1.5},"encoding":{"x":{"field":"x","type":"quantitative"},"y":{"datum":-15,"type":"quantitative"},"y2":{"datum":16}}},
  {"data":{"name":"q2"},"mark":{"type":"circle","size":10,"color":"#34509a","opacity":0.75},"encoding":{"x":{"field":"x","type":"quantitative"},"y":{"field":"j","type":"quantitative"}}},
  {"transform":[{"filter":"datum.k=='thick'"}],"mark":{"type":"rule","color":"#1c63b7","strokeWidth":5},"encoding":{"x":{"field":"x","type":"quantitative"},"x2":{"field":"x2"},"y":{"datum":0,"type":"quantitative"}}},
  {"transform":[{"filter":"datum.k=='bar'"}],"mark":{"type":"rule","color":"#1c63b7","strokeWidth":5,"strokeCap":"round"},"encoding":{"x":{"field":"x","type":"quantitative"},"y":{"datum":-16,"type":"quantitative"},"y2":{"datum":18}}},
  {"transform":[{"filter":"datum.k=='med'"}],"mark":{"type":"rule","color":"#1c63b7","strokeWidth":5,"strokeCap":"round"},"encoding":{"x":{"field":"x","type":"quantitative"},"y":{"datum":-33,"type":"quantitative"},"y2":{"datum":35}}},
  {"transform":[{"filter":"datum.k=='win'"}],"mark":{"type":"rule","color":"#8b3a0e","strokeWidth":4},"encoding":{"x":{"field":"x","type":"quantitative"},"y":{"datum":-49,"type":"quantitative"},"y2":{"datum":43}}},
  {"transform":[{"filter":"datum.k=='br'"}],"mark":{"type":"rule","color":"#8b3a0e","strokeWidth":2.5},"encoding":{"x":{"field":"x","type":"quantitative"},"x2":{"field":"x2"},"y":{"datum":-35,"type":"quantitative"}}},
  {"transform":[{"filter":"datum.k=='br'"}],"mark":{"type":"point","shape":"triangle-left","filled":true,"size":50,"color":"#8b3a0e","opacity":1,"xOffset":3},"encoding":{"x":{"field":"x","type":"quantitative"},"y":{"datum":-35,"type":"quantitative"}}},
  {"transform":[{"filter":"datum.k=='br'"}],"mark":{"type":"point","shape":"triangle-right","filled":true,"size":50,"color":"#8b3a0e","opacity":1,"xOffset":-3},"encoding":{"x":{"field":"x2","type":"quantitative"},"y":{"datum":-35,"type":"quantitative"}}}
 ]
},
{
 "width": 522, "height": 92, "data": {"name": "s3"},
 "layer": [
  {"transform":[{"filter":"datum.k=='grid'"}],"mark":{"type":"rule","color":"#d0d0d0","strokeWidth":1.2},"encoding":{"x":{"field":"x","type":"quantitative","scale":{"domain":[-0.1766,0.1503],"nice":false,"zero":false},"axis":{"title":null,"orient":"top","values":[-0.15,0,0.15],"labelExpr":"datum.value < 0 ? '-' + format(-datum.value, '.2~f') : (datum.value > 0 ? '+' + format(datum.value, '.2~f') : '0.0')"}},"y":{"datum":-49,"type":"quantitative","scale":{"domain":[-49,43],"nice":false,"zero":false},"axis":null},"y2":{"datum":43}}},
  {"transform":[{"filter":"datum.k=='zero'"}],"mark":{"type":"rule","color":"#cbcbcb","strokeWidth":5},"encoding":{"x":{"field":"x","type":"quantitative"},"y":{"datum":-49,"type":"quantitative"},"y2":{"datum":43}}},
  {"transform":[{"filter":"datum.k=='v'"}],"mark":{"type":"area","color":"#5b9bd5","opacity":0.45,"interpolate":"monotone"},"encoding":{"x":{"field":"x","type":"quantitative"},"y":{"field":"hi","type":"quantitative"},"y2":{"field":"lo"}}},
  {"transform":[{"filter":"datum.k=='wh'"}],"mark":{"type":"rule","color":"#4a88c8","strokeWidth":1.5},"encoding":{"x":{"field":"x","type":"quantitative"},"x2":{"field":"x2"},"y":{"datum":0,"type":"quantitative"}}},
  {"data":{"name":"q3"},"mark":{"type":"circle","size":10,"color":"#34509a","opacity":0.35},"encoding":{"x":{"field":"x","type":"quantitative"},"y":{"field":"j","type":"quantitative"}}},
  {"transform":[{"filter":"datum.k=='thick'"}],"mark":{"type":"rule","color":"#1c63b7","strokeWidth":5},"encoding":{"x":{"field":"x","type":"quantitative"},"x2":{"field":"x2"},"y":{"datum":0,"type":"quantitative"}}},
  {"transform":[{"filter":"datum.k=='bar'"}],"mark":{"type":"rule","color":"#1c63b7","strokeWidth":5,"strokeCap":"round"},"encoding":{"x":{"field":"x","type":"quantitative"},"y":{"datum":-17,"type":"quantitative"},"y2":{"datum":17}}},
  {"transform":[{"filter":"datum.k=='tk'"}],"mark":{"type":"rule","color":"#1e4f98","strokeWidth":3},"encoding":{"x":{"field":"x","type":"quantitative"},"y":{"datum":-16,"type":"quantitative"},"y2":{"datum":16}}},
  {"transform":[{"filter":"datum.k=='med'"}],"mark":{"type":"rule","color":"#1c63b7","strokeWidth":5,"strokeCap":"round"},"encoding":{"x":{"field":"x","type":"quantitative"},"y":{"datum":-34,"type":"quantitative"},"y2":{"datum":34}}},
  {"transform":[{"filter":"datum.k=='bw'"}],"mark":{"type":"rule","color":"#2470bf","strokeWidth":2.5},"encoding":{"x":{"field":"x","type":"quantitative"},"x2":{"field":"x2"},"y":{"datum":29.5,"type":"quantitative"}}},
  {"transform":[{"filter":"datum.k=='bw'"}],"mark":{"type":"point","shape":"triangle-left","filled":true,"size":50,"color":"#2470bf","opacity":1,"xOffset":3},"encoding":{"x":{"field":"x","type":"quantitative"},"y":{"datum":29.5,"type":"quantitative"}}},
  {"transform":[{"filter":"datum.k=='bw'"}],"mark":{"type":"point","shape":"triangle-right","filled":true,"size":50,"color":"#2470bf","opacity":1,"xOffset":-3},"encoding":{"x":{"field":"x2","type":"quantitative"},"y":{"datum":29.5,"type":"quantitative"}}},
  {"transform":[{"filter":"datum.k=='win'"}],"mark":{"type":"rule","color":"#8b3a0e","strokeWidth":4},"encoding":{"x":{"field":"x","type":"quantitative"},"y":{"datum":-49,"type":"quantitative"},"y2":{"datum":43}}},
  {"transform":[{"filter":"datum.k=='br'"}],"mark":{"type":"rule","color":"#8b3a0e","strokeWidth":2.5},"encoding":{"x":{"field":"x","type":"quantitative"},"x2":{"field":"x2"},"y":{"datum":-36.5,"type":"quantitative"}}},
  {"transform":[{"filter":"datum.k=='br'"}],"mark":{"type":"point","shape":"triangle-left","filled":true,"size":50,"color":"#8b3a0e","opacity":1,"xOffset":3},"encoding":{"x":{"field":"x","type":"quantitative"},"y":{"datum":-36.5,"type":"quantitative"}}},
  {"transform":[{"filter":"datum.k=='br'"}],"mark":{"type":"point","shape":"triangle-right","filled":true,"size":50,"color":"#8b3a0e","opacity":1,"xOffset":-3},"encoding":{"x":{"field":"x2","type":"quantitative"},"y":{"datum":-36.5,"type":"quantitative"}}},
  {"data":{"values":[{"t":"n)"}]},"mark":{"type":"text","font":"Liberation Sans","fontSize":21,"color":"#111111","align":"right","baseline":"middle"},"encoding":{"x":{"datum":-0.1853,"type":"quantitative"},"y":{"datum":0.5,"type":"quantitative"},"text":{"field":"t"}}}
 ]
},
{
 "width": 522, "height": 92, "data": {"name": "s4"},
 "layer": [
  {"transform":[{"filter":"datum.k=='grid'"}],"mark":{"type":"rule","color":"#d0d0d0","strokeWidth":1.2},"encoding":{"x":{"field":"x","type":"quantitative","scale":{"domain":[-0.936,0.808],"nice":false,"zero":false},"axis":{"title":null,"orient":"top","values":[-0.8,0,0.8],"labelExpr":"datum.value < 0 ? '-' + format(-datum.value, '.2~f') : (datum.value > 0 ? '+' + format(datum.value, '.2~f') : '0.0')"}},"y":{"datum":-49,"type":"quantitative","scale":{"domain":[-49,43],"nice":false,"zero":false},"axis":null},"y2":{"datum":43}}},
  {"transform":[{"filter":"datum.k=='zero'"}],"mark":{"type":"rule","color":"#cbcbcb","strokeWidth":5},"encoding":{"x":{"field":"x","type":"quantitative"},"y":{"datum":-49,"type":"quantitative"},"y2":{"datum":43}}},
  {"transform":[{"filter":"datum.k=='v'"}],"mark":{"type":"area","color":"#5b9bd5","opacity":0.45,"interpolate":"monotone"},"encoding":{"x":{"field":"x","type":"quantitative"},"y":{"field":"hi","type":"quantitative"},"y2":{"field":"lo"}}},
  {"transform":[{"filter":"datum.k=='wh'"}],"mark":{"type":"rule","color":"#4a88c8","strokeWidth":1.5},"encoding":{"x":{"field":"x","type":"quantitative"},"x2":{"field":"x2"},"y":{"datum":0,"type":"quantitative"}}},
  {"data":{"name":"q4"},"mark":{"type":"circle","size":10,"color":"#34509a","opacity":0.75},"encoding":{"x":{"field":"x","type":"quantitative"},"y":{"field":"j","type":"quantitative"}}},
  {"transform":[{"filter":"datum.k=='thick'"}],"mark":{"type":"rule","color":"#1c63b7","strokeWidth":5},"encoding":{"x":{"field":"x","type":"quantitative"},"x2":{"field":"x2"},"y":{"datum":0,"type":"quantitative"}}},
  {"transform":[{"filter":"datum.k=='bar'"}],"mark":{"type":"rule","color":"#1c63b7","strokeWidth":5,"strokeCap":"round"},"encoding":{"x":{"field":"x","type":"quantitative"},"y":{"datum":-17,"type":"quantitative"},"y2":{"datum":17}}},
  {"transform":[{"filter":"datum.k=='med'"}],"mark":{"type":"rule","color":"#1c63b7","strokeWidth":5,"strokeCap":"round"},"encoding":{"x":{"field":"x","type":"quantitative"},"y":{"datum":-35,"type":"quantitative"},"y2":{"datum":33}}},
  {"transform":[{"filter":"datum.k=='bw'"}],"mark":{"type":"rule","color":"#2470bf","strokeWidth":2.5},"encoding":{"x":{"field":"x","type":"quantitative"},"x2":{"field":"x2"},"y":{"datum":30,"type":"quantitative"}}},
  {"transform":[{"filter":"datum.k=='bw'"}],"mark":{"type":"point","shape":"triangle-left","filled":true,"size":50,"color":"#2470bf","opacity":1,"xOffset":3},"encoding":{"x":{"field":"x","type":"quantitative"},"y":{"datum":30,"type":"quantitative"}}},
  {"transform":[{"filter":"datum.k=='bw'"}],"mark":{"type":"point","shape":"triangle-right","filled":true,"size":50,"color":"#2470bf","opacity":1,"xOffset":-3},"encoding":{"x":{"field":"x2","type":"quantitative"},"y":{"datum":30,"type":"quantitative"}}},
  {"transform":[{"filter":"datum.k=='win'"}],"mark":{"type":"rule","color":"#8b3a0e","strokeWidth":5},"encoding":{"x":{"field":"x","type":"quantitative"},"y":{"datum":-49,"type":"quantitative"},"y2":{"datum":43}}},
  {"transform":[{"filter":"datum.k=='br'"}],"mark":{"type":"point","shape":"triangle-left","filled":true,"size":50,"color":"#8b3a0e","opacity":1,"xOffset":3},"encoding":{"x":{"field":"x","type":"quantitative"},"y":{"datum":-37,"type":"quantitative"}}},
  {"transform":[{"filter":"datum.k=='br'"}],"mark":{"type":"point","shape":"triangle-right","filled":true,"size":50,"color":"#8b3a0e","opacity":1,"xOffset":-3},"encoding":{"x":{"field":"x2","type":"quantitative"},"y":{"datum":-37,"type":"quantitative"}}},
  {"data":{"values":[{"t":"ge"}]},"mark":{"type":"text","font":"Liberation Sans","fontSize":20,"color":"#111111","align":"right","baseline":"middle"},"encoding":{"x":{"datum":-0.9365,"type":"quantitative"},"y":{"datum":22,"type":"quantitative"},"text":{"field":"t"}}},
  {"data":{"values":[{"t":"on)"}]},"mark":{"type":"text","font":"Liberation Sans","fontSize":20,"color":"#111111","align":"right","baseline":"middle"},"encoding":{"x":{"datum":-0.918,"type":"quantitative"},"y":{"datum":4,"type":"quantitative"},"text":{"field":"t"}}}
 ]
},
{
 "width": 522, "height": 92, "data": {"name": "s5"},
 "layer": [
  {"transform":[{"filter":"datum.k=='grid'"}],"mark":{"type":"rule","color":"#d0d0d0","strokeWidth":1.2},"encoding":{"x":{"field":"x","type":"quantitative","scale":{"domain":[-0.2172,0.1509],"nice":false,"zero":false},"axis":{"title":null,"orient":"top","values":[-0.15,0,0.15],"labelExpr":"datum.value < 0 ? '-' + format(-datum.value, '.2~f') : (datum.value > 0 ? '+' + format(datum.value, '.2~f') : '0.0')"}},"y":{"datum":-49,"type":"quantitative","scale":{"domain":[-49,43],"nice":false,"zero":false},"axis":null},"y2":{"datum":43}}},
  {"transform":[{"filter":"datum.k=='zero'"}],"mark":{"type":"rule","color":"#cbcbcb","strokeWidth":5},"encoding":{"x":{"field":"x","type":"quantitative"},"y":{"datum":-49,"type":"quantitative"},"y2":{"datum":43}}},
  {"transform":[{"filter":"datum.k=='v'"}],"mark":{"type":"area","color":"#5b9bd5","opacity":0.45,"interpolate":"monotone"},"encoding":{"x":{"field":"x","type":"quantitative"},"y":{"field":"hi","type":"quantitative"},"y2":{"field":"lo"}}},
  {"transform":[{"filter":"datum.k=='wh'"}],"mark":{"type":"rule","color":"#4a88c8","strokeWidth":1.5},"encoding":{"x":{"field":"x","type":"quantitative"},"x2":{"field":"x2"},"y":{"datum":0,"type":"quantitative"}}},
  {"transform":[{"filter":"datum.k=='cap'"}],"mark":{"type":"rule","color":"#4a88c8","strokeWidth":1.5},"encoding":{"x":{"field":"x","type":"quantitative"},"y":{"datum":-15,"type":"quantitative"},"y2":{"datum":14}}},
  {"data":{"name":"q5"},"mark":{"type":"circle","size":10,"color":"#34509a","opacity":0.75},"encoding":{"x":{"field":"x","type":"quantitative"},"y":{"field":"j","type":"quantitative"}}},
  {"transform":[{"filter":"datum.k=='thick'"}],"mark":{"type":"rule","color":"#1c63b7","strokeWidth":5},"encoding":{"x":{"field":"x","type":"quantitative"},"x2":{"field":"x2"},"y":{"datum":0,"type":"quantitative"}}},
  {"transform":[{"filter":"datum.k=='bar'"}],"mark":{"type":"rule","color":"#1c63b7","strokeWidth":5,"strokeCap":"round"},"encoding":{"x":{"field":"x","type":"quantitative"},"y":{"datum":-17,"type":"quantitative"},"y2":{"datum":17}}},
  {"transform":[{"filter":"datum.k=='med'"}],"mark":{"type":"rule","color":"#1c63b7","strokeWidth":5,"strokeCap":"round"},"encoding":{"x":{"field":"x","type":"quantitative"},"y":{"datum":-35,"type":"quantitative"},"y2":{"datum":33}}},
  {"transform":[{"filter":"datum.k=='bw'"}],"mark":{"type":"rule","color":"#2470bf","strokeWidth":2.5},"encoding":{"x":{"field":"x","type":"quantitative"},"x2":{"field":"x2"},"y":{"datum":29.5,"type":"quantitative"}}},
  {"transform":[{"filter":"datum.k=='bw'"}],"mark":{"type":"point","shape":"triangle-left","filled":true,"size":50,"color":"#2470bf","opacity":1,"xOffset":3},"encoding":{"x":{"field":"x","type":"quantitative"},"y":{"datum":29.5,"type":"quantitative"}}},
  {"transform":[{"filter":"datum.k=='bw'"}],"mark":{"type":"point","shape":"triangle-right","filled":true,"size":50,"color":"#2470bf","opacity":1,"xOffset":-3},"encoding":{"x":{"field":"x2","type":"quantitative"},"y":{"datum":29.5,"type":"quantitative"}}},
  {"transform":[{"filter":"datum.k=='win'"}],"mark":{"type":"rule","color":"#8b3a0e","strokeWidth":4},"encoding":{"x":{"field":"x","type":"quantitative"},"y":{"datum":-49,"type":"quantitative"},"y2":{"datum":43}}},
  {"transform":[{"filter":"datum.k=='br'"}],"mark":{"type":"rule","color":"#8b3a0e","strokeWidth":2.5},"encoding":{"x":{"field":"x","type":"quantitative"},"x2":{"field":"x2"},"y":{"datum":-37,"type":"quantitative"}}},
  {"transform":[{"filter":"datum.k=='br'"}],"mark":{"type":"point","shape":"triangle-left","filled":true,"size":50,"color":"#8b3a0e","opacity":1,"xOffset":3},"encoding":{"x":{"field":"x","type":"quantitative"},"y":{"datum":-37,"type":"quantitative"}}},
  {"transform":[{"filter":"datum.k=='br'"}],"mark":{"type":"point","shape":"triangle-right","filled":true,"size":50,"color":"#8b3a0e","opacity":1,"xOffset":-3},"encoding":{"x":{"field":"x2","type":"quantitative"},"y":{"datum":-37,"type":"quantitative"}}},
  {"data":{"values":[{"t":"n)"}]},"mark":{"type":"text","font":"Liberation Sans","fontSize":21,"color":"#111111","align":"right","baseline":"middle"},"encoding":{"x":{"datum":-0.2257,"type":"quantitative"},"y":{"datum":0,"type":"quantitative"},"text":{"field":"t"}}}
 ]
},
{
 "width": 522, "height": 92, "data": {"name": "s6"},
 "layer": [
  {"transform":[{"filter":"datum.k=='grid'"}],"mark":{"type":"rule","color":"#d0d0d0","strokeWidth":1.2},"encoding":{"x":{"field":"x","type":"quantitative","scale":{"domain":[-0.3287,0.0509],"nice":false,"zero":false},"axis":{"title":null,"orient":"top","values":[-0.05,0,0.05],"labelExpr":"datum.value < 0 ? '-' + format(-datum.value, '.2~f') : (datum.value > 0 ? '+' + format(datum.value, '.2~f') : '0.0')"}},"y":{"datum":-49,"type":"quantitative","scale":{"domain":[-49,43],"nice":false,"zero":false},"axis":null},"y2":{"datum":43}}},
  {"transform":[{"filter":"datum.k=='zero'"}],"mark":{"type":"rule","color":"#cbcbcb","strokeWidth":5},"encoding":{"x":{"field":"x","type":"quantitative"},"y":{"datum":-49,"type":"quantitative"},"y2":{"datum":43}}},
  {"transform":[{"filter":"datum.k=='v'"}],"mark":{"type":"area","color":"#5b9bd5","opacity":0.45,"interpolate":"monotone"},"encoding":{"x":{"field":"x","type":"quantitative"},"y":{"field":"hi","type":"quantitative"},"y2":{"field":"lo"}}},
  {"transform":[{"filter":"datum.k=='wh'"}],"mark":{"type":"rule","color":"#4a88c8","strokeWidth":1.5},"encoding":{"x":{"field":"x","type":"quantitative"},"x2":{"field":"x2"},"y":{"datum":0,"type":"quantitative"}}},
  {"transform":[{"filter":"datum.k=='cap'"}],"mark":{"type":"rule","color":"#4a88c8","strokeWidth":1.5},"encoding":{"x":{"field":"x","type":"quantitative"},"y":{"datum":-15,"type":"quantitative"},"y2":{"datum":15}}},
  {"data":{"name":"q6"},"mark":{"type":"circle","size":10,"color":"#34509a","opacity":0.75},"encoding":{"x":{"field":"x","type":"quantitative"},"y":{"field":"j","type":"quantitative"}}},
  {"transform":[{"filter":"datum.k=='thick'"}],"mark":{"type":"rule","color":"#1c63b7","strokeWidth":5},"encoding":{"x":{"field":"x","type":"quantitative"},"x2":{"field":"x2"},"y":{"datum":0,"type":"quantitative"}}},
  {"transform":[{"filter":"datum.k=='bar'"}],"mark":{"type":"rule","color":"#1c63b7","strokeWidth":5,"strokeCap":"round"},"encoding":{"x":{"field":"x","type":"quantitative"},"y":{"datum":-17,"type":"quantitative"},"y2":{"datum":17}}},
  {"transform":[{"filter":"datum.k=='med'"}],"mark":{"type":"rule","color":"#1c63b7","strokeWidth":5,"strokeCap":"round"},"encoding":{"x":{"field":"x","type":"quantitative"},"y":{"datum":-35,"type":"quantitative"},"y2":{"datum":27}}},
  {"transform":[{"filter":"datum.k=='bw'"}],"mark":{"type":"rule","color":"#2470bf","strokeWidth":2.5},"encoding":{"x":{"field":"x","type":"quantitative"},"x2":{"field":"x2"},"y":{"datum":29,"type":"quantitative"}}},
  {"transform":[{"filter":"datum.k=='bw'"}],"mark":{"type":"point","shape":"triangle-left","filled":true,"size":50,"color":"#2470bf","opacity":1,"xOffset":3},"encoding":{"x":{"field":"x","type":"quantitative"},"y":{"datum":29,"type":"quantitative"}}},
  {"transform":[{"filter":"datum.k=='bw'"}],"mark":{"type":"point","shape":"triangle-right","filled":true,"size":50,"color":"#2470bf","opacity":1,"xOffset":-3},"encoding":{"x":{"field":"x2","type":"quantitative"},"y":{"datum":29,"type":"quantitative"}}},
  {"transform":[{"filter":"datum.k=='win'"}],"mark":{"type":"rule","color":"#8b3a0e","strokeWidth":4},"encoding":{"x":{"field":"x","type":"quantitative"},"y":{"datum":-49,"type":"quantitative"},"y2":{"datum":43}}},
  {"transform":[{"filter":"datum.k=='br'"}],"mark":{"type":"rule","color":"#8b3a0e","strokeWidth":2.5},"encoding":{"x":{"field":"x","type":"quantitative"},"x2":{"field":"x2"},"y":{"datum":-36,"type":"quantitative"}}},
  {"transform":[{"filter":"datum.k=='br'"}],"mark":{"type":"point","shape":"triangle-left","filled":true,"size":50,"color":"#8b3a0e","opacity":1,"xOffset":3},"encoding":{"x":{"field":"x","type":"quantitative"},"y":{"datum":-36,"type":"quantitative"}}},
  {"transform":[{"filter":"datum.k=='br'"}],"mark":{"type":"point","shape":"triangle-right","filled":true,"size":50,"color":"#8b3a0e","opacity":1,"xOffset":-3},"encoding":{"x":{"field":"x2","type":"quantitative"},"y":{"datum":-36,"type":"quantitative"}}}
 ]
},
{
 "width": 522, "height": 92, "data": {"name": "s7"},
 "layer": [
  {"transform":[{"filter":"datum.k=='grid'"}],"mark":{"type":"rule","color":"#d0d0d0","strokeWidth":1.2},"encoding":{"x":{"field":"x","type":"quantitative","scale":{"domain":[-0.0618,0.0102],"nice":false,"zero":false},"axis":{"title":null,"orient":"top","values":[-0.01,0,0.01],"labelExpr":"datum.value < 0 ? '-' + format(-datum.value, '.2~f') : (datum.value > 0 ? '+' + format(datum.value, '.2~f') : '0.0')"}},"y":{"datum":-49,"type":"quantitative","scale":{"domain":[-49,43],"nice":false,"zero":false},"axis":null},"y2":{"datum":43}}},
  {"transform":[{"filter":"datum.k=='zero'"}],"mark":{"type":"rule","color":"#cbcbcb","strokeWidth":5},"encoding":{"x":{"field":"x","type":"quantitative"},"y":{"datum":-49,"type":"quantitative"},"y2":{"datum":43}}},
  {"transform":[{"filter":"datum.k=='v'"}],"mark":{"type":"area","color":"#5b9bd5","opacity":0.45,"interpolate":"monotone"},"encoding":{"x":{"field":"x","type":"quantitative"},"y":{"field":"hi","type":"quantitative"},"y2":{"field":"lo"}}},
  {"transform":[{"filter":"datum.k=='wh'"}],"mark":{"type":"rule","color":"#4a88c8","strokeWidth":1.5},"encoding":{"x":{"field":"x","type":"quantitative"},"x2":{"field":"x2"},"y":{"datum":0,"type":"quantitative"}}},
  {"data":{"name":"q7"},"mark":{"type":"circle","size":10,"color":"#34509a","opacity":0.4},"encoding":{"x":{"field":"x","type":"quantitative"},"y":{"field":"j","type":"quantitative"}}},
  {"transform":[{"filter":"datum.k=='thick'"}],"mark":{"type":"rule","color":"#1c63b7","strokeWidth":5},"encoding":{"x":{"field":"x","type":"quantitative"},"x2":{"field":"x2"},"y":{"datum":0,"type":"quantitative"}}},
  {"transform":[{"filter":"datum.k=='bar'"}],"mark":{"type":"rule","color":"#1c63b7","strokeWidth":5,"strokeCap":"round"},"encoding":{"x":{"field":"x","type":"quantitative"},"y":{"datum":-17,"type":"quantitative"},"y2":{"datum":17}}},
  {"transform":[{"filter":"datum.k=='med'"}],"mark":{"type":"rule","color":"#1c63b7","strokeWidth":5,"strokeCap":"round"},"encoding":{"x":{"field":"x","type":"quantitative"},"y":{"datum":-35,"type":"quantitative"},"y2":{"datum":34}}},
  {"transform":[{"filter":"datum.k=='bw'"}],"mark":{"type":"rule","color":"#2470bf","strokeWidth":2.5},"encoding":{"x":{"field":"x","type":"quantitative"},"x2":{"field":"x2"},"y":{"datum":28.6,"type":"quantitative"}}},
  {"transform":[{"filter":"datum.k=='bw'"}],"mark":{"type":"point","shape":"triangle-left","filled":true,"size":50,"color":"#2470bf","opacity":1,"xOffset":3},"encoding":{"x":{"field":"x","type":"quantitative"},"y":{"datum":28.6,"type":"quantitative"}}},
  {"transform":[{"filter":"datum.k=='bw'"}],"mark":{"type":"point","shape":"triangle-right","filled":true,"size":50,"color":"#2470bf","opacity":1,"xOffset":-3},"encoding":{"x":{"field":"x2","type":"quantitative"},"y":{"datum":28.6,"type":"quantitative"}}},
  {"transform":[{"filter":"datum.k=='win'"}],"mark":{"type":"rule","color":"#8b3a0e","strokeWidth":4},"encoding":{"x":{"field":"x","type":"quantitative"},"y":{"datum":-49,"type":"quantitative"},"y2":{"datum":43}}},
  {"transform":[{"filter":"datum.k=='br'"}],"mark":{"type":"rule","color":"#8b3a0e","strokeWidth":2.5},"encoding":{"x":{"field":"x","type":"quantitative"},"x2":{"field":"x2"},"y":{"datum":-36,"type":"quantitative"}}},
  {"transform":[{"filter":"datum.k=='br'"}],"mark":{"type":"point","shape":"triangle-left","filled":true,"size":50,"color":"#8b3a0e","opacity":1,"xOffset":3},"encoding":{"x":{"field":"x","type":"quantitative"},"y":{"datum":-36,"type":"quantitative"}}},
  {"transform":[{"filter":"datum.k=='br'"}],"mark":{"type":"point","shape":"triangle-right","filled":true,"size":50,"color":"#8b3a0e","opacity":1,"xOffset":-3},"encoding":{"x":{"field":"x2","type":"quantitative"},"y":{"datum":-36,"type":"quantitative"}}},
  {"data":{"values":[{"t":"on"}]},"mark":{"type":"text","font":"Liberation Sans","fontSize":21,"color":"#111111","align":"right","baseline":"middle"},"encoding":{"x":{"datum":-0.06207,"type":"quantitative"},"y":{"datum":0.6,"type":"quantitative"},"text":{"field":"t"}}}
 ]
},
{
 "width": 522, "height": 92, "data": {"name": "s8"},
 "layer": [
  {"transform":[{"filter":"datum.k=='grid'"}],"mark":{"type":"rule","color":"#d0d0d0","strokeWidth":1.2},"encoding":{"x":{"field":"x","type":"quantitative","scale":{"domain":[-0.0515,0.0402],"nice":false,"zero":false},"axis":{"title":null,"orient":"top","values":[-0.04,0,0.04],"labelExpr":"datum.value < 0 ? '-' + format(-datum.value, '.2~f') : (datum.value > 0 ? '+' + format(datum.value, '.2~f') : '0.0')"}},"y":{"datum":-49,"type":"quantitative","scale":{"domain":[-49,43],"nice":false,"zero":false},"axis":null},"y2":{"datum":43}}},
  {"transform":[{"filter":"datum.k=='zero'"}],"mark":{"type":"rule","color":"#cbcbcb","strokeWidth":5},"encoding":{"x":{"field":"x","type":"quantitative"},"y":{"datum":-49,"type":"quantitative"},"y2":{"datum":43}}},
  {"transform":[{"filter":"datum.k=='v'"}],"mark":{"type":"area","color":"#5b9bd5","opacity":0.45,"interpolate":"monotone"},"encoding":{"x":{"field":"x","type":"quantitative"},"y":{"field":"hi","type":"quantitative"},"y2":{"field":"lo"}}},
  {"transform":[{"filter":"datum.k=='wh'"}],"mark":{"type":"rule","color":"#4a88c8","strokeWidth":1.5},"encoding":{"x":{"field":"x","type":"quantitative"},"x2":{"field":"x2"},"y":{"datum":0,"type":"quantitative"}}},
  {"transform":[{"filter":"datum.k=='cap'"}],"mark":{"type":"rule","color":"#4a88c8","strokeWidth":1.5},"encoding":{"x":{"field":"x","type":"quantitative"},"y":{"datum":-13,"type":"quantitative"},"y2":{"datum":12}}},
  {"data":{"name":"q8"},"mark":{"type":"circle","size":10,"color":"#34509a","opacity":0.35},"encoding":{"x":{"field":"x","type":"quantitative"},"y":{"field":"j","type":"quantitative"}}},
  {"transform":[{"filter":"datum.k=='thick'"}],"mark":{"type":"rule","color":"#1c63b7","strokeWidth":5},"encoding":{"x":{"field":"x","type":"quantitative"},"x2":{"field":"x2"},"y":{"datum":0,"type":"quantitative"}}},
  {"transform":[{"filter":"datum.k=='bar'"}],"mark":{"type":"rule","color":"#1c63b7","strokeWidth":5,"strokeCap":"round"},"encoding":{"x":{"field":"x","type":"quantitative"},"y":{"datum":-16,"type":"quantitative"},"y2":{"datum":17}}},
  {"transform":[{"filter":"datum.k=='tk'"}],"mark":{"type":"rule","color":"#1e4f98","strokeWidth":3},"encoding":{"x":{"field":"x","type":"quantitative"},"y":{"datum":-16,"type":"quantitative"},"y2":{"datum":9}}},
  {"transform":[{"filter":"datum.k=='med'"}],"mark":{"type":"rule","color":"#1c63b7","strokeWidth":5,"strokeCap":"round"},"encoding":{"x":{"field":"x","type":"quantitative"},"y":{"datum":-34,"type":"quantitative"},"y2":{"datum":34}}},
  {"transform":[{"filter":"datum.k=='bw'"}],"mark":{"type":"rule","color":"#2470bf","strokeWidth":2.5},"encoding":{"x":{"field":"x","type":"quantitative"},"x2":{"field":"x2"},"y":{"datum":27.7,"type":"quantitative"}}},
  {"transform":[{"filter":"datum.k=='bw'"}],"mark":{"type":"point","shape":"triangle-left","filled":true,"size":50,"color":"#2470bf","opacity":1,"xOffset":3},"encoding":{"x":{"field":"x","type":"quantitative"},"y":{"datum":27.7,"type":"quantitative"}}},
  {"transform":[{"filter":"datum.k=='bw'"}],"mark":{"type":"point","shape":"triangle-right","filled":true,"size":50,"color":"#2470bf","opacity":1,"xOffset":-3},"encoding":{"x":{"field":"x2","type":"quantitative"},"y":{"datum":27.7,"type":"quantitative"}}},
  {"transform":[{"filter":"datum.k=='win'"}],"mark":{"type":"rule","color":"#8b3a0e","strokeWidth":4},"encoding":{"x":{"field":"x","type":"quantitative"},"y":{"datum":-46,"type":"quantitative"},"y2":{"datum":43}}},
  {"transform":[{"filter":"datum.k=='br'"}],"mark":{"type":"rule","color":"#8b3a0e","strokeWidth":2.5},"encoding":{"x":{"field":"x","type":"quantitative"},"x2":{"field":"x2"},"y":{"datum":-32.6,"type":"quantitative"}}},
  {"transform":[{"filter":"datum.k=='br'"}],"mark":{"type":"point","shape":"triangle-left","filled":true,"size":50,"color":"#8b3a0e","opacity":1,"xOffset":3},"encoding":{"x":{"field":"x","type":"quantitative"},"y":{"datum":-32.6,"type":"quantitative"}}},
  {"transform":[{"filter":"datum.k=='br'"}],"mark":{"type":"point","shape":"triangle-right","filled":true,"size":50,"color":"#8b3a0e","opacity":1,"xOffset":-3},"encoding":{"x":{"field":"x2","type":"quantitative"},"y":{"datum":-32.6,"type":"quantitative"}}},
  {"data":{"values":[{"t":"Winner gap"}]},"mark":{"type":"text","font":"DejaVu Sans","fontWeight":"bold","fontSize":22.5,"color":"#8b3a0e","align":"left","baseline":"alphabetic"},"encoding":{"x":{"datum":-0.04886,"type":"quantitative"},"y":{"datum":29.4,"type":"quantitative"},"text":{"field":"t"}}},
  {"data":{"values":[{"t":"Improvement"}]},"mark":{"type":"text","font":"DejaVu Sans","fontWeight":"bold","fontSize":19,"color":"#8b3a0e","align":"left","baseline":"alphabetic"},"encoding":{"x":{"datum":-0.04763,"type":"quantitative"},"y":{"datum":11.7,"type":"quantitative"},"text":{"field":"t"}}},
  {"data":{"values":[{"t":"of top model"}]},"mark":{"type":"text","font":"DejaVu Sans","fontWeight":"bold","fontSize":19,"color":"#8b3a0e","align":"left","baseline":"alphabetic"},"encoding":{"x":{"datum":-0.04798,"type":"quantitative"},"y":{"datum":-5.9,"type":"quantitative"},"text":{"field":"t"}}},
  {"data":{"values":[{"t":"on 10% best"}]},"mark":{"type":"text","font":"DejaVu Sans","fontWeight":"bold","fontSize":19,"color":"#8b3a0e","align":"left","baseline":"alphabetic"},"encoding":{"x":{"datum":-0.04798,"type":"quantitative"},"y":{"datum":-25.9,"type":"quantitative"},"text":{"field":"t"}}},
  {"data":{"values":[{"t":"between public"}]},"mark":{"type":"text","font":"DejaVu Sans","fontWeight":"bold","fontSize":17.2,"color":"#2470bf","align":"left","baseline":"alphabetic"},"encoding":{"x":{"datum":0.00457,"type":"quantitative"},"y":{"datum":40.4,"type":"quantitative"},"text":{"field":"t"}}},
  {"data":{"values":[{"t":"and private sets"}]},"mark":{"type":"text","font":"DejaVu Sans","fontWeight":"bold","fontSize":18,"color":"#2470bf","align":"left","baseline":"alphabetic"},"encoding":{"x":{"datum":0.00879,"type":"quantitative"},"y":{"datum":25.4,"type":"quantitative"},"text":{"field":"t"}}},
  {"data":{"values":[{"t":"Evaluation noise"}]},"mark":{"type":"text","font":"DejaVu Sans","fontWeight":"bold","fontSize":22,"color":"#2470bf","align":"left","baseline":"alphabetic"},"encoding":{"x":{"datum":-0.00404,"type":"quantitative"},"y":{"datum":-60.6,"type":"quantitative"},"text":{"field":"t"}}}
 ]
}
]
}
